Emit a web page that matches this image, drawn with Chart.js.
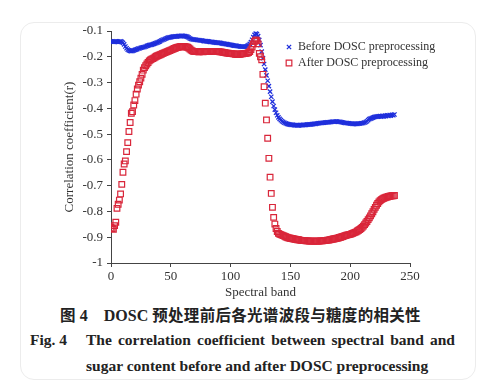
<!DOCTYPE html>
<html>
<head>
<meta charset="utf-8">
<script src="https://cdn.jsdelivr.net/npm/chart.js@4.4.1/dist/chart.umd.min.js"></script>
<style>
  html,body{margin:0;padding:0;background:#fff;}
  body{width:488px;height:385px;position:relative;overflow:hidden;}
  #card{position:absolute;left:20px;top:22px;width:456px;height:358px;border:1px solid #ececec;border-radius:14px;box-sizing:border-box;}
  #wrap{position:absolute;left:0;top:0;width:488px;height:300px;}
  .cap{position:absolute;font-family:"Liberation Serif",serif;font-weight:bold;color:#222;white-space:nowrap;}
  #c1{left:60px;top:303px;font-size:16px;}
  #c1 .cjk{font-family:"Noto Sans CJK SC",sans-serif;font-weight:bold;font-size:15.5px;letter-spacing:0.3px;}
  #c2a{left:30px;top:331px;font-size:15.5px;}
  #c2b{left:86px;top:331px;width:369px;font-size:15.5px;text-align:justify;text-align-last:justify;white-space:normal;}
  #c3{left:86px;top:357px;font-size:15.5px;}
</style>
</head>
<body>
<div id="card"></div>
<div id="wrap"><canvas id="chart" width="488" height="300"></canvas></div>
<div class="cap" id="c1"><span class="cjk">图</span> 4&nbsp;&nbsp;&nbsp; DOSC <span class="cjk">预处理前后各光谱波段与糖度的相关性</span></div>
<div class="cap" id="c2a">Fig. 4</div>
<div class="cap" id="c2b">The correlation coefficient between spectral band and</div>
<div class="cap" id="c3">sugar content before and after DOSC preprocessing</div>
<script>
const seriesNames = ["Before DOSC preprocessing", "After DOSC preprocessing"];
const xTicks = [0, 50, 100, 150, 200, 250];
const yTicks = [-1, -0.9, -0.8, -0.7, -0.6, -0.5, -0.4, -0.3, -0.2, -0.1];

const beforeDOSC = [
 -0.140,-0.141,-0.142,-0.141,-0.140,-0.141,-0.142,-0.141,-0.140,-0.142,
 -0.146,-0.152,-0.160,-0.167,-0.172,-0.175,-0.177,-0.178,-0.177,-0.175,
 -0.173,-0.172,-0.170,-0.168,-0.167,-0.165,-0.164,-0.163,-0.162,-0.160,
 -0.158,-0.157,-0.155,-0.154,-0.153,-0.151,-0.150,-0.148,-0.146,-0.144,
 -0.142,-0.140,-0.137,-0.135,-0.133,-0.131,-0.129,-0.127,-0.126,-0.125,
 -0.124,-0.123,-0.122,-0.122,-0.121,-0.121,-0.120,-0.120,-0.120,-0.119,
 -0.119,-0.120,-0.120,-0.121,-0.123,-0.126,-0.129,-0.131,-0.132,-0.133,
 -0.134,-0.134,-0.135,-0.135,-0.136,-0.137,-0.137,-0.138,-0.139,-0.139,
 -0.140,-0.140,-0.141,-0.142,-0.142,-0.143,-0.144,-0.144,-0.145,-0.145,
 -0.146,-0.146,-0.147,-0.148,-0.149,-0.150,-0.151,-0.151,-0.152,-0.153,
 -0.154,-0.155,-0.156,-0.157,-0.157,-0.158,-0.159,-0.159,-0.160,-0.160,
 -0.161,-0.161,-0.161,-0.160,-0.158,-0.155,-0.150,-0.143,-0.134,-0.124,
 -0.115,-0.110,-0.112,-0.120,-0.135,-0.155,-0.180,-0.205,-0.228,-0.250,
 -0.272,-0.293,-0.314,-0.335,-0.355,-0.374,-0.391,-0.405,-0.417,-0.427,
 -0.435,-0.441,-0.446,-0.450,-0.453,-0.456,-0.458,-0.460,-0.461,-0.462,
 -0.463,-0.464,-0.464,-0.465,-0.465,-0.465,-0.466,-0.466,-0.465,-0.465,
 -0.465,-0.464,-0.464,-0.464,-0.463,-0.463,-0.462,-0.462,-0.461,-0.461,
 -0.460,-0.460,-0.459,-0.458,-0.458,-0.457,-0.457,-0.456,-0.456,-0.455,
 -0.455,-0.454,-0.454,-0.453,-0.453,-0.452,-0.452,-0.452,-0.451,-0.451,
 -0.452,-0.452,-0.453,-0.454,-0.455,-0.456,-0.457,-0.457,-0.458,-0.458,
 -0.459,-0.459,-0.460,-0.460,-0.460,-0.460,-0.460,-0.459,-0.459,-0.458,
 -0.458,-0.457,-0.455,-0.453,-0.450,-0.446,-0.442,-0.440,-0.438,-0.436,
 -0.434,-0.433,-0.432,-0.431,-0.431,-0.430,-0.432,-0.429,-0.431,-0.428,
 -0.430,-0.427,-0.429,-0.426,-0.428,-0.425,-0.427,-0.424
];

const afterDOSC = [
 -0.862,-0.866,-0.869,-0.855,-0.842,-0.788,-0.772,-0.756,-0.732,-0.695,
 -0.648,-0.616,-0.604,-0.568,-0.533,-0.490,-0.455,-0.419,-0.413,-0.387,
 -0.370,-0.345,-0.325,-0.310,-0.297,-0.283,-0.268,-0.252,-0.242,-0.235,
 -0.228,-0.222,-0.216,-0.212,-0.209,-0.207,-0.204,-0.201,-0.198,-0.196,
 -0.194,-0.192,-0.190,-0.188,-0.186,-0.184,-0.182,-0.180,-0.178,-0.176,
 -0.174,-0.172,-0.170,-0.168,-0.166,-0.164,-0.163,-0.162,-0.161,-0.160,
 -0.160,-0.160,-0.161,-0.162,-0.163,-0.166,-0.170,-0.174,-0.177,-0.179,
 -0.180,-0.180,-0.180,-0.181,-0.181,-0.180,-0.180,-0.181,-0.180,-0.180,
 -0.180,-0.179,-0.179,-0.180,-0.180,-0.179,-0.179,-0.179,-0.180,-0.180,
 -0.180,-0.181,-0.181,-0.182,-0.183,-0.184,-0.185,-0.186,-0.186,-0.187,
 -0.188,-0.188,-0.189,-0.189,-0.190,-0.190,-0.190,-0.190,-0.190,-0.189,
 -0.189,-0.188,-0.188,-0.187,-0.186,-0.184,-0.180,-0.172,-0.162,-0.150,
 -0.140,-0.135,-0.138,-0.150,-0.187,-0.200,-0.212,-0.268,-0.316,-0.380,
 -0.445,-0.516,-0.594,-0.667,-0.730,-0.784,-0.823,-0.849,-0.866,-0.878,
 -0.885,-0.888,-0.890,-0.892,-0.894,-0.896,-0.898,-0.900,-0.902,-0.903,
 -0.904,-0.905,-0.906,-0.907,-0.908,-0.909,-0.910,-0.910,-0.911,-0.912,
 -0.912,-0.913,-0.913,-0.914,-0.914,-0.914,-0.915,-0.915,-0.915,-0.915,
 -0.915,-0.915,-0.915,-0.915,-0.915,-0.914,-0.914,-0.914,-0.913,-0.913,
 -0.912,-0.911,-0.911,-0.910,-0.909,-0.908,-0.907,-0.906,-0.905,-0.904,
 -0.903,-0.901,-0.900,-0.898,-0.897,-0.895,-0.894,-0.892,-0.891,-0.890,
 -0.889,-0.887,-0.885,-0.883,-0.881,-0.879,-0.876,-0.873,-0.870,-0.866,
 -0.862,-0.857,-0.851,-0.845,-0.839,-0.832,-0.825,-0.817,-0.809,-0.801,
 -0.792,-0.784,-0.776,-0.769,-0.763,-0.758,-0.754,-0.751,-0.749,-0.747,
 -0.745,-0.744,-0.742,-0.741,-0.740,-0.739,-0.739,-0.738
];

const toPoints = arr => arr.map((v, i) => ({x: i, y: v}));
const serif = "'Liberation Serif', 'Times New Roman', serif";
const axisColor = '#444';

const legendPlugin = {
  id: 'innerLegend',
  afterDraw(chart) {
    const ctx = chart.ctx;
    const ds = chart.data.datasets;
    const items = [
      {ds: ds[1], x: 289, y: 47},
      {ds: ds[0], x: 289, y: 63}
    ];
    ctx.save();
    ctx.font = "12px " + serif;
    ctx.textBaseline = 'middle';
    items.forEach(it => {
      ctx.strokeStyle = it.ds.borderColor;
      ctx.fillStyle = 'rgba(0,0,0,0)';
      ctx.lineWidth = it.ds.borderWidth;
      Chart.helpers.drawPoint(ctx, {pointStyle: it.ds.pointStyle, radius: it.ds.pointRadius, borderWidth: it.ds.borderWidth}, it.x, it.y);
      ctx.fillStyle = '#333';
      ctx.fillText(it.ds.label, 298, it.y);
    });
    ctx.restore();
  }
};

new Chart(document.getElementById('chart'), {
  type: 'scatter',
  data: {
    datasets: [
      {
        label: seriesNames[1],
        data: toPoints(afterDOSC),
        pointStyle: 'rect',
        pointRadius: 4,
        borderColor: '#d9263a',
        backgroundColor: 'rgba(255,255,255,0)',
        borderWidth: 1.2,
        order: 0
      },
      {
        label: seriesNames[0],
        data: toPoints(beforeDOSC),
        pointStyle: 'crossRot',
        pointRadius: 3,
        borderColor: '#1f2fdc',
        backgroundColor: '#1f2fdc',
        borderWidth: 1.3,
        order: 1
      }
    ]
  },
  options: {
    responsive: false,
    animation: false,
    devicePixelRatio: 1,
    layout: {padding: {left: 60, right: 78, top: 31, bottom: 0}},
    plugins: {legend: {display: false}, tooltip: {enabled: false}},
    scales: {
      x: {
        type: 'linear', min: 0, max: 250,
        afterFit: s => { s.height = 37; },
        afterBuildTicks: s => { s.ticks = xTicks.map(v => ({value: v})); },
        ticks: {font: {family: serif, size: 13}, color: '#333', padding: 2, maxRotation: 0},
        grid: {drawOnChartArea: false, drawTicks: true, tickLength: 4, color: axisColor},
        border: {display: true, color: axisColor, width: 1},
        title: {display: true, text: 'Spectral band', font: {family: serif, size: 13}, color: '#333', padding: {top: 0, bottom: 0}}
      },
      y: {
        type: 'linear', min: -1, max: -0.1,
        afterFit: s => { s.width = 51; },
        afterBuildTicks: s => { s.ticks = yTicks.map(v => ({value: v})); },
        ticks: {font: {family: serif, size: 13}, color: '#333', padding: 4,
          callback: v => String(Math.round(v * 10) / 10)},
        grid: {drawOnChartArea: false, drawTicks: true, tickLength: 4, color: axisColor},
        border: {display: true, color: axisColor, width: 1},
        title: {display: true, text: 'Correlation coefficient(r)', font: {family: serif, size: 13}, color: '#333', padding: {top: 2, bottom: 0}}
      }
    }
  },
  plugins: [legendPlugin]
});
</script>
</body>
</html>
